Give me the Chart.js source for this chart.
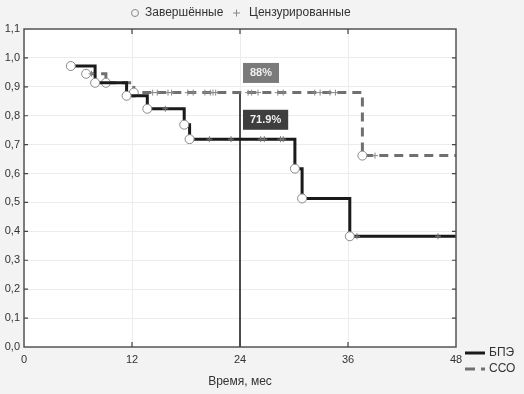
<!DOCTYPE html>
<html><head><meta charset="utf-8">
<script src="https://cdn.jsdelivr.net/npm/chart.js@4/dist/chart.umd.min.js"></script>
<style>html,body{margin:0;padding:0;background:#f3f3f3;}#wrap{width:524px;height:394px;}</style>
</head><body><div id="wrap"><canvas id="c" width="524" height="394"></canvas></div>
<script>
// Data
const seriesNames = ['БПЭ', 'ССО'];
const bpeTimes = [5.2, 7.9, 11.4, 13.7, 17.8, 18.4, 30.1, 30.9, 36.2, 48];
const bpeSurv  = [0.972, 0.914, 0.869, 0.824, 0.769, 0.719, 0.617, 0.514, 0.383, 0.383];
const ccoTimes = [6.9, 9.1, 12.2, 37.6, 48];
const ccoSurv  = [0.945, 0.914, 0.880, 0.662, 0.662];
const bpeCensT = [15.7, 20.6, 23.0, 26.3, 26.7, 28.5, 28.8, 37.0, 46.0];
const bpeCensS = [0.824, 0.719, 0.719, 0.719, 0.719, 0.719, 0.719, 0.383, 0.383];
const ccoCensT = [7.5, 14.3, 14.8, 16.0, 16.4, 18.2, 18.8, 20.1, 20.7, 21.0, 21.3, 24.9, 25.3, 26.0, 28.2, 28.8, 32.3, 32.9, 34.0, 34.6, 39.0];
const ccoCensS = [0.945, 0.88, 0.88, 0.88, 0.88, 0.88, 0.88, 0.88, 0.88, 0.88, 0.88, 0.88, 0.88, 0.88, 0.88, 0.88, 0.88, 0.88, 0.88, 0.88, 0.662];
const markTime = 24;
const markLabels = ['88%', '71.9%'];
const markValues = [0.88, 0.719];
const xTicks = [0, 12, 24, 36, 48];
const yMax = 1.1;
const legendTop = ['Завершённые', 'Цензурированные'];
const xTitle = 'Время, мес';

const pts = (t, s) => t.map((v, i) => ({x: v, y: s[i]}));
const FONT = "'Liberation Sans', Arial, sans-serif";

const decor = {
  id: 'decor',
  beforeDraw(chart) {
    const {ctx, chartArea: a} = chart;
    ctx.save(); ctx.fillStyle = '#ffffff';
    ctx.fillRect(a.left, a.top, a.right - a.left, a.bottom - a.top);
    ctx.restore();
  },
  afterDraw(chart) {
    const {ctx, chartArea: a, scales: {x, y}} = chart;
    ctx.save();
    // frame
    ctx.strokeStyle = '#555'; ctx.lineWidth = 1.5;
    ctx.strokeRect(a.left, a.top, a.right - a.left, a.bottom - a.top);
    // inward ticks
    ctx.lineWidth = 1.2; ctx.strokeStyle = '#444';
    xTicks.slice(1, -1).forEach(v => {
      const px = x.getPixelForValue(v);
      ctx.beginPath(); ctx.moveTo(px, a.bottom); ctx.lineTo(px, a.bottom - 5);
      ctx.moveTo(px, a.top); ctx.lineTo(px, a.top + 5); ctx.stroke();
    });
    for (let k = 1; k < 11; k++) {
      const py = y.getPixelForValue(k / 10);
      ctx.beginPath(); ctx.moveTo(a.left, py); ctx.lineTo(a.left + 4, py);
      ctx.moveTo(a.right, py); ctx.lineTo(a.right - 4, py); ctx.stroke();
    }
    // annotation boxes
    const boxes = [
      {text: markLabels[0], v: 0.948, bg: '#7a7a7a'},
      {text: markLabels[1], v: 0.786, bg: '#3e3e3e'}
    ];
    ctx.font = 'bold 11px ' + FONT;
    boxes.forEach(b => {
      const w = ctx.measureText(b.text).width + 14;
      const bx = x.getPixelForValue(markTime) + 3;
      const by = y.getPixelForValue(b.v) - 10;
      ctx.fillStyle = b.bg; ctx.fillRect(bx, by, w, 20);
      ctx.fillStyle = '#f0f0f0'; ctx.textBaseline = 'middle'; ctx.textAlign = 'left';
      ctx.fillText(b.text, bx + 7, by + 10.5);
    });
    // top legend
    ctx.font = '12px ' + FONT; ctx.fillStyle = '#333'; ctx.textBaseline = 'middle';
    ctx.strokeStyle = '#888'; ctx.lineWidth = 1;
    ctx.beginPath(); ctx.arc(135, 13, 3.5, 0, Math.PI * 2); ctx.stroke();
    ctx.fillText(legendTop[0], 145, 13);
    ctx.beginPath(); ctx.moveTo(233, 13); ctx.lineTo(240, 13); ctx.moveTo(236.5, 9.5); ctx.lineTo(236.5, 16.5); ctx.stroke();
    ctx.fillText(legendTop[1], 249, 13);
    // right legend
    ctx.lineWidth = 3;
    ctx.strokeStyle = '#1a1a1a';
    ctx.beginPath(); ctx.moveTo(465, 353); ctx.lineTo(485, 353); ctx.stroke();
    ctx.strokeStyle = '#707070';
    ctx.beginPath(); ctx.moveTo(465, 369); ctx.lineTo(475, 369); ctx.moveTo(481, 369); ctx.lineTo(485, 369); ctx.stroke();
    ctx.fillStyle = '#333'; ctx.font = '12px ' + FONT;
    ctx.fillText(seriesNames[0], 489, 353);
    ctx.fillText(seriesNames[1], 489, 369);
    ctx.restore();
  }
};

const circleRadius = arr => arr.map((v, i) => i === arr.length - 1 ? 0 : 4.5);

new Chart(document.getElementById('c'), {
  type: 'scatter',
  data: {
    datasets: [
      {label: 'mark', type: 'line', data: [{x: markTime, y: 0}, {x: markTime, y: markValues[0]}],
       borderColor: '#222', borderWidth: 1.6, pointRadius: 0, order: 5},
      {label: seriesNames[1], type: 'line', data: pts(ccoTimes, ccoSurv), stepped: 'before',
       borderColor: '#707070', borderWidth: 3, borderDash: [9, 6], fill: false,
       pointRadius: circleRadius(ccoTimes), pointBackgroundColor: '#fff', pointBorderColor: '#8a8a8a', pointBorderWidth: 1, order: 3},
      {label: seriesNames[0], type: 'line', data: pts(bpeTimes, bpeSurv), stepped: 'before',
       borderColor: '#1a1a1a', borderWidth: 3, fill: false,
       pointRadius: circleRadius(bpeTimes), pointBackgroundColor: '#fff', pointBorderColor: '#8a8a8a', pointBorderWidth: 1, order: 2},
      {label: 'cens1', data: pts(ccoCensT, ccoCensS), pointStyle: 'cross', pointRadius: 3,
       borderColor: '#888', borderWidth: 1, order: 1},
      {label: 'cens0', data: pts(bpeCensT, bpeCensS), pointStyle: 'cross', pointRadius: 3,
       borderColor: '#777', borderWidth: 1, order: 1}
    ]
  },
  options: {
    responsive: false, animation: false,
    layout: {padding: {top: 29, right: 68, left: 0, bottom: 0}},
    plugins: {legend: {display: false}, tooltip: {enabled: false}},
    scales: {
      x: {type: 'linear', min: 0, max: 48,
        afterBuildTicks: s => { s.ticks = xTicks.map(v => ({value: v})); },
        afterFit: s => { s.height = 47; },
        grid: {color: '#ececec', drawTicks: false},
        border: {display: false},
        ticks: {padding: 6, color: '#333', font: {family: FONT, size: 11}, maxRotation: 0},
        title: {display: true, text: xTitle, color: '#333', font: {family: FONT, size: 12}, padding: {top: 0, bottom: 5}}
      },
      y: {min: 0, max: yMax,
        afterBuildTicks: s => { const t = []; for (let k = 0; k <= 11; k++) t.push({value: k / 10}); s.ticks = t; },
        afterFit: s => { s.width = 24; },
        grid: {color: '#ececec', drawTicks: false},
        border: {display: false},
        ticks: {padding: 4, color: '#333', font: {family: FONT, size: 11},
          callback: v => v.toFixed(1).replace('.', ',')}
      }
    }
  },
  plugins: [decor]
});
</script></body></html>
